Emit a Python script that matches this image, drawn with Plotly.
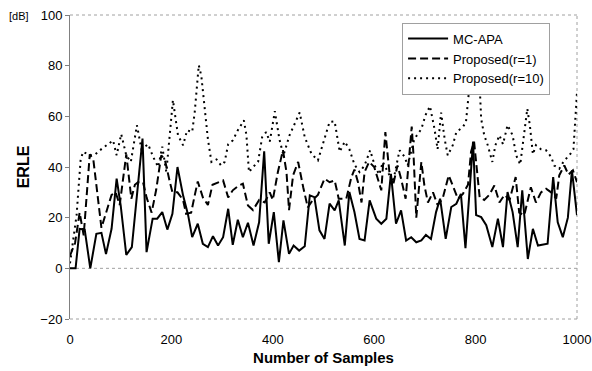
import plotly.graph_objects as go

# ---- data ----
mc_x = [0, 11, 19, 29, 40, 52, 62, 71, 82, 92, 100, 111, 122, 134, 143, 151, 163, 172, 182, 192,
        202, 212, 223, 233, 241, 252, 262, 272, 282, 292, 302, 312, 321, 331, 341, 351, 362, 373, 383, 392,
        402, 412, 421, 432, 441, 452, 463, 473, 482, 492, 502, 512, 522, 530, 542, 551, 561, 571, 581, 591,
        604, 614, 624, 633, 643, 653, 663, 673, 683, 693, 702, 712, 722, 730, 741, 752, 762, 771, 780, 795,
        801, 811, 821, 833, 844, 854, 863, 873, 883, 892, 903, 913, 923, 942, 953, 962, 972, 982, 990, 1000]
mc_y = [0, 0, 15.6, 15.3, 0, 13.6, 14, 5.6, 15.6, 35.4, 24.8, 5.3, 8.4, 34, 51.2, 6.4, 19.6, 19.6, 22.2, 15.3,
        21.5, 40, 28.8, 21, 12.3, 17.6, 9.7, 8.4, 12.7, 9, 12.3, 23.5, 9.3, 19.2, 12.3, 18, 9, 18.2, 46.2, 9.7,
        22.2, 2.4, 18.9, 5.7, 9, 7, 8.7, 28.8, 28.1, 15, 11.6, 25.5, 22.9, 26.8, 9, 30.1, 22.2, 11.6, 11, 26.8,
        19.6, 17.6, 19.6, 37.3, 17.6, 22.9, 11, 12.3, 10.3, 11, 13.2, 11.6, 22.2, 27.5, 11.6, 24.2, 25.5, 29.4, 8, 50,
        21, 20.2, 17, 8.4, 19.6, 8.4, 30.1, 22.2, 8.4, 30.8, 3.7, 15.6, 9, 9.7, 36, 18.2, 12.3, 20, 38.7, 21]

r1_x = [0, 10, 19, 27, 39, 46, 62, 82, 90, 98, 111, 121, 128, 134, 144, 151, 161, 170, 180, 187,
        197, 202, 212, 223, 229, 239, 246, 252, 262, 272, 281, 292, 302, 312, 321, 333, 341, 351, 361, 373,
        384, 394, 400, 410, 420, 427, 432, 440, 450, 460, 469, 479, 489, 502, 512, 522, 530, 545, 555, 561,
        568, 575, 581, 590, 600, 614, 622, 630, 637, 646, 653, 662, 670, 674, 678, 683, 693, 699, 706, 716,
        725, 735, 747, 755, 765, 775, 785, 791, 797, 808, 817, 827, 837, 847, 857, 867, 879, 886, 896, 909,
        919, 929, 939, 949, 959, 965, 975, 983, 992, 1000]
r1_y = [5, 10, 22, 13, 45, 43, 16, 29, 30, 25, 45, 27.5, 33, 34, 34, 28, 22, 31, 44.6, 43,
        34, 30, 30, 27, 21.5, 22, 28.8, 34.3, 28, 25, 33, 34, 34.7, 28, 30.8, 32.7, 33.4, 24.8, 23, 27,
        26, 30, 27, 38, 46.6, 38, 23, 36.7, 42, 32, 24, 27, 29, 35.4, 34, 34.7, 27.5, 27.5, 36, 39,
        34, 26, 38, 42, 40, 30.8, 53.8, 38, 32.7, 40.6, 35.4, 27.5, 44.6, 56, 43, 20, 42, 32.7, 26, 30,
        25, 27.5, 36.7, 32.7, 27.5, 29.4, 33, 46, 50, 28, 27, 29, 32.7, 26, 29, 27, 36, 22, 21, 32,
        26, 30, 31.4, 30, 27.5, 36.7, 40.6, 37, 38.7, 34]

r10_x = [0, 13, 21, 26, 39, 50, 59, 75, 85, 92, 101, 111, 120, 132, 141, 154, 164, 174, 182, 190,
         196, 203, 213, 223, 231, 241, 246, 254, 259, 266, 272, 279, 289, 298, 305, 312, 321, 331, 343, 348,
         353, 361, 371, 379, 387, 394, 404, 413, 421, 433, 446, 453, 463, 476, 489, 499, 512, 522, 532, 542,
         551, 561, 571, 581, 592, 601, 610, 617, 627, 637, 650, 660, 666, 679, 693, 701, 710, 719, 725, 732,
         739, 745, 755, 762, 775, 781, 788, 797, 808, 811, 817, 824, 833, 839, 847, 854, 863, 873, 880, 888,
         902, 907, 913, 919, 929, 939, 949, 955, 965, 975, 985, 993, 1000]
r10_y = [2, 21, 43, 46, 44.6, 45, 46.6, 49, 50.5, 44.6, 53, 44.6, 42, 56.5, 47, 49, 44, 40, 48, 38,
         51, 66.4, 52.5, 48.6, 54.5, 53.8, 61.7, 80.2, 76, 63, 51, 42, 43, 40.6, 42, 49, 50.5, 54.5, 58.4, 52.5,
         38, 40, 42, 51.8, 53.8, 50, 62, 51, 44.6, 52.5, 58.4, 61.5, 51.8, 45.3, 42.6, 49, 57.8, 58, 46, 50,
         47, 41, 38, 40.6, 46.6, 40.6, 37, 42, 38, 34, 46.6, 44, 40.6, 51, 55, 60.4, 64, 55, 47, 61.5,
         51, 44.6, 48.6, 53.8, 55.8, 57.8, 72, 78, 72, 59, 52.5, 48.6, 42, 48.6, 52.5, 49, 56.5, 52.5, 44.6, 41,
         63, 56.5, 45, 48.6, 47, 46.6, 44, 40.6, 39.3, 42.6, 44.6, 47, 69.6]

series_names = ["MC-APA", "Proposed(r=1)", "Proposed(r=10)"]
x_ticks = [0, 200, 400, 600, 800, 1000]
y_ticks = [-20, 0, 20, 40, 60, 80, 100]

FONT = "Liberation Sans, Arial, sans-serif"

fig = go.Figure()
fig.add_trace(go.Scatter(x=mc_x, y=mc_y, mode="lines", name=series_names[0],
                         line=dict(color="black", width=2)))
fig.add_trace(go.Scatter(x=r1_x, y=r1_y, mode="lines", name=series_names[1],
                         line=dict(color="black", width=2, dash="8px,4px")))
fig.add_trace(go.Scatter(x=r10_x, y=r10_y, mode="lines", name=series_names[2],
                         line=dict(color="black", width=2, dash="2px,4px")))

grey = "#a0a0a0"
frame = dict(color=grey, width=1, dash="dot")
# dotted frame (top, right, bottom) and dotted zero line
fig.add_shape(type="line", xref="paper", yref="paper", x0=0, x1=1, y0=1, y1=1, line=frame, layer="below")
fig.add_shape(type="line", xref="paper", yref="paper", x0=1, x1=1, y0=0, y1=1, line=frame, layer="below")
fig.add_shape(type="line", xref="paper", yref="paper", x0=0, x1=1, y0=0, y1=0, line=frame, layer="below")
fig.add_shape(type="line", xref="paper", yref="y", x0=0, x1=1, y0=0, y1=0, line=frame, layer="below")

fig.add_annotation(text="[dB]", xref="paper", yref="paper", x=-0.101, y=0.997, xanchor="center",
                   yanchor="middle", showarrow=False, font=dict(family=FONT, size=11, color="black"))

fig.update_layout(
    width=592, height=371,
    margin=dict(l=69.5, r=15, t=15, b=52, autoexpand=False),
    paper_bgcolor="white", plot_bgcolor="white",
    font=dict(family=FONT, size=13, color="black"),
    showlegend=True,
    legend=dict(x=0.655, y=0.975, xanchor="left", yanchor="top",
                bgcolor="white", bordercolor=grey, borderwidth=1,
                font=dict(family=FONT, size=13), tracegroupgap=0,
                itemwidth=40),
    xaxis=dict(range=[0, 1000], tickvals=x_ticks, showgrid=False, zeroline=False, automargin=False,
               showline=False, ticks="outside", ticklen=8, tickcolor="rgba(0,0,0,0)",
               tickfont=dict(size=13), ticklabeloverflow="allow",
               title=dict(text="<b>Number of Samples</b>", font=dict(size=15), standoff=6)),
    yaxis=dict(range=[-20, 100], tickvals=y_ticks, showgrid=False, zeroline=False, automargin=False,
               showline=True, linecolor="#808080", linewidth=1, ticks="outside", ticklen=4,
               tickcolor="#808080", tickfont=dict(size=13), ticklabeloverflow="allow",
               title=dict(text="<b>ERLE</b>", font=dict(size=16), standoff=6)),
)

# remove the default 8px page margin so the figure fills the window exactly
fig.write_html("out.html", config={"displayModeBar": False},
               post_script="document.body.style.margin='0';document.body.style.overflow='hidden';")
